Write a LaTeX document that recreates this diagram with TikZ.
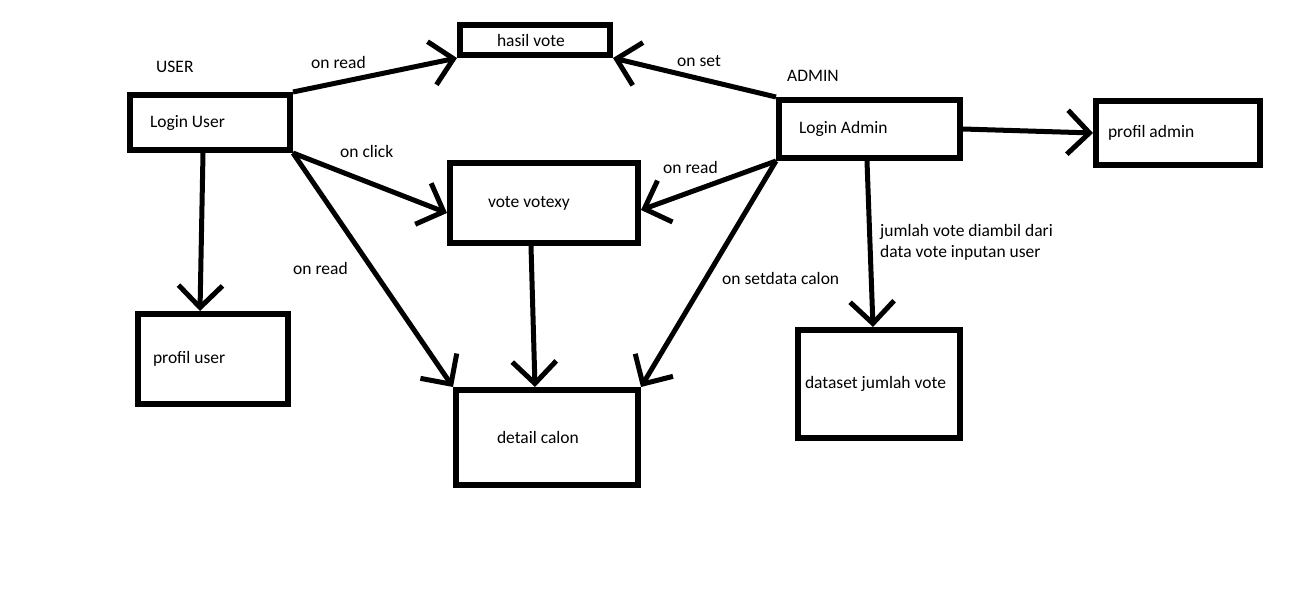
\documentclass[tikz,border=0pt]{standalone}
\usepackage{fontspec}
\setmainfont{Carlito}
\usetikzlibrary{arrows.meta,calc}
\newcommand{\boxtext}[2]{\makebox[#1pt][l]{#2}}
\begin{document}
\begin{tikzpicture}[x=1pt,y=-1pt,
  font=\fontsize{17.5}{21}\selectfont,
  box/.style={draw=black, line width=6pt, rectangle, inner ysep=0pt},
  arr/.style={draw=black, line width=5pt, -{Straight Barb[length=22pt,width=44pt,line width=5pt]}},
  lbl/.style={inner sep=0pt, align=left, anchor=west}]
\path[use as bounding box, fill=white] (0,0) rectangle (1293,592);

% boxes
\node[box, minimum height=30pt, inner xsep=37pt] (hv) at (535,40) {\boxtext{76}{hasil vote}};
\node[box, minimum height=55pt, inner xsep=20pt] (lu) at (210,122.5) {\boxtext{120}{Login User}};
\node[box, minimum height=80pt, inner xsep=38pt] (vv) at (544,203) {\boxtext{112}{vote votexy}};
\node[box, minimum height=58pt, inner xsep=20pt] (la) at (869.5,129) {\boxtext{141}{Login Admin}};
\node[box, minimum height=64pt, inner xsep=12pt] (pa) at (1178,133) {\boxtext{140}{profil admin}};
\node[box, minimum height=90pt, inner xsep=15pt] (pu) at (213,359) {\boxtext{120}{profil user}};
\node[box, minimum height=95pt, inner xsep=41pt] (dc) at (547,437.5) {\boxtext{100}{detail calon}};
\node[box, minimum height=108pt, inner xsep=7pt] (ds) at (879,384) {\boxtext{148}{dataset jumlah vote}};

% headings
\node[lbl] (user) at (156,67) {USER};
\node[lbl] (admin) at (787,76) {ADMIN};

% connectors
\draw[arr] (lu.north east) -- (hv.south west);
\draw[arr] (la.north west) -- (hv.south east);
\draw[arr] (lu.south east) -- ($(vv.west)+(0,10)$);
\draw[arr] (la.south west) -- ($(vv.east)+(0,7)$);
\draw[arr] (lu.south east) -- (dc.north west);
\draw[arr] (la.south west) -- (dc.north east);
\draw[arr] ($(vv.south)+(-13,0)$) -- ($(dc.north)+(-12,0)$);
\draw[arr] ($(lu.south)+(-7,0)$) -- ($(pu.north)+(-13,0)$);
\draw[arr] (la.east) -- (pa.west);
\draw[arr] ($(la.south)+(-2.5,0)$) -- ($(ds.north)+(-6,0)$);

% connector labels
\node[lbl] (l1) at (311,62) {on read};
\node[lbl] (l2) at (677,61) {on set};
\node[lbl] (l3) at (340,151) {on click};
\node[lbl] (l4) at (663,167) {on read};
\node[lbl] (l5) at (293,268) {on read};
\node[lbl] (l6) at (722,278) {on setdata calon};
\node[lbl] (l7) at (880,232) {jumlah vote diambil dari};
\node[lbl] (l8) at (880,253) {data vote inputan user};
\end{tikzpicture}
\end{document}
